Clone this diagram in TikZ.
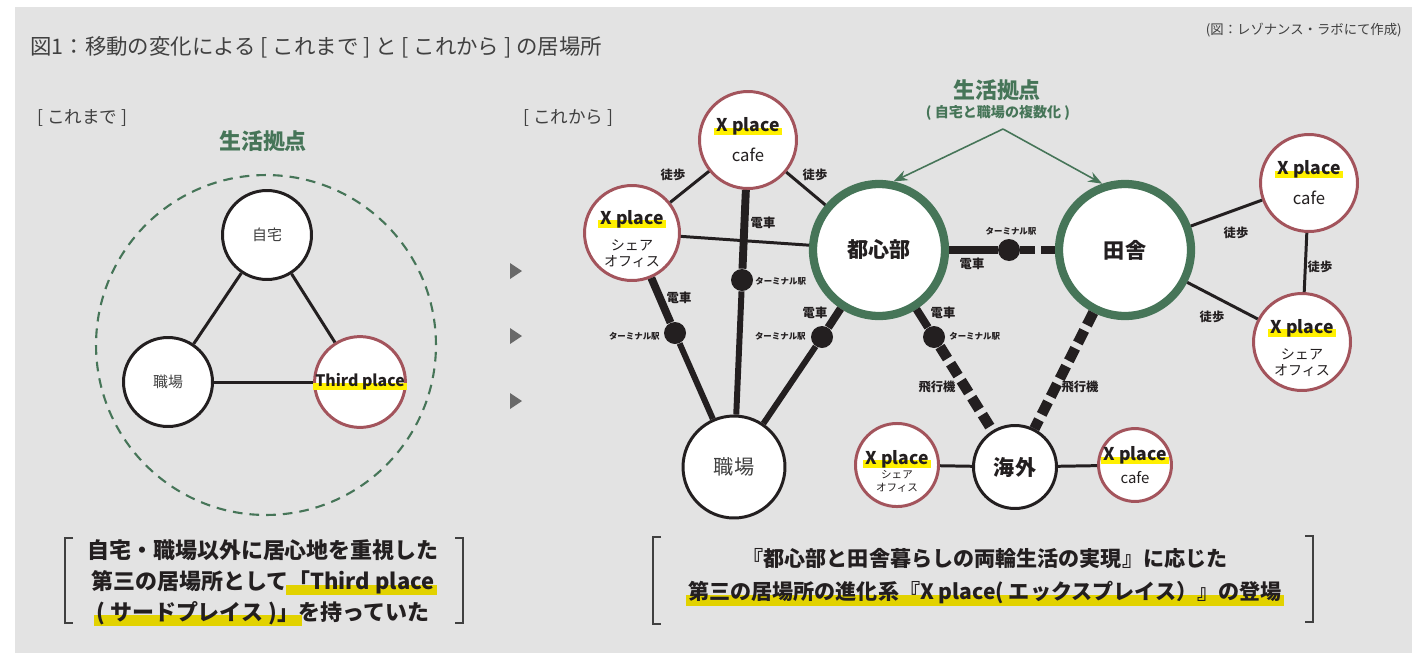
\documentclass[tikz,border=0pt]{standalone}
\usepackage{fontspec}
\setmainfont{Noto Sans CJK JP}
\usetikzlibrary{positioning,arrows.meta}
\definecolor{gg}{RGB}{70,117,88}
\definecolor{rr}{RGB}{163,84,92}
\definecolor{kk}{RGB}{35,31,32}
\definecolor{tt}{RGB}{64,64,64}
\definecolor{yy}{RGB}{255,240,0}
\definecolor{ym}{RGB}{226,210,0}
\definecolor{bg}{RGB}{227,227,227}
\definecolor{pp}{RGB}{105,105,105}
\newcommand{\fsz}[2]{\fontsize{#1pt}{#2pt}\selectfont}
\newcommand{\hlx}[4]{\setbox0=\hbox{#4}\rlap{\kern-0.12em\textcolor{#1}{\rule[-#2]{\dimexpr\wd0+0.24em\relax}{\dimexpr#2+#3\relax}}}\box0}
\newcommand{\xp}{{\fsz{10}{12}\hlx{yy}{0.2em}{0.22em}{\bfseries X place}}}

\begin{document}
\begin{tikzpicture}[x=0.02cm,y=-0.02cm,
  spot/.style={circle,draw=kk,fill=white,line width=1.7pt,inner sep=0pt,align=center,text=tt},
  xpl/.style={circle,draw=rr,fill=white,line width=1.7pt,inner sep=0pt,align=center,text=kk},
  base/.style={circle,draw=gg,fill=white,line width=4.7pt,inner sep=0pt,minimum size=2.64cm,text=kk,font=\bfseries\fsz{12}{14}},
  term/.style={circle,fill=kk,inner sep=0pt,minimum size=0.44cm},
  walk/.style={draw=kk,line width=1.7pt},
  rail/.style={draw=kk,line width=4.5pt},
  railb/.style={draw=kk,line width=3.4pt},
  fly/.style={draw=kk,line width=6pt,dash pattern=on 8pt off 3.4pt},
  tag/.style={text=kk,font=\bfseries\fsz{7}{8},inner sep=0pt},
  stn/.style={text=kk,font=\bfseries\fsz{4.8}{5},inner sep=0pt},
  brk/.style={draw=tt,line width=0.9pt},
  zone/.style={draw=gg,line width=1.2pt,dash pattern=on 5.5pt off 4pt}]
\useasboundingbox (0,0) rectangle (1412,653);
\fill[white] (0,0) rectangle (1412,653);
\fill[bg] (15,7) rectangle (1412,653);

\node[anchor=west,inner sep=0pt,text=tt,font=\fsz{12.2}{14}] (title) at (30,47) {図1：移動の変化による [ これまで ] と [ これから ] の居場所};
\node[anchor=east,inner sep=0pt,text=tt,font=\fsz{7.6}{9}] (credit) at (1402,30) {(図：レゾナンス・ラボにて作成)};
\node[anchor=west,inner sep=0pt,text=tt,font=\fsz{10}{11}] (before) at (37,118) {[ これまで ]};
\node[anchor=west,inner sep=0pt,text=tt,font=\fsz{10}{11}] (after) at (523,118) {[ これから ]};

\node[text=gg,font=\bfseries\fsz{12.5}{14}] (baseL) at (263,141) {生活拠点};
\draw[zone] (266,345) circle[radius=3.4cm];
\node[spot,minimum size=1.78cm,font=\fsz{8.5}{10}] (home) at (267,235) {自宅};
\node[spot,minimum size=1.78cm,font=\fsz{8.5}{10}] (office) at (168,382) {職場};
\node[xpl,minimum size=1.78cm,font=\fsz{9}{10}] (third) at (360,382) {\hlx{yy}{0.2em}{0.22em}{\bfseries Third place}};
\draw[walk] (home) -- (office);
\draw[walk] (home) -- (third);
\draw[walk] (office) -- (third);

\foreach \ty in {271,336,401}
  \fill[pp] (510,\ty-8) -- (522,\ty) -- (510,\ty+8) -- cycle;

\node[text=gg,font=\bfseries\fsz{12.5}{14}] (baseR) at (997,90) {生活拠点};
\node[text=gg,font=\bfseries\fsz{8}{9}] (baseRsub) at (998,113) {( 自宅と職場の複数化 )};
\coordinate (apex) at (1003,129);

\node[xpl,minimum size=1.94cm,font=\fsz{9.5}{17}] (cafeA) at (748,140) {\xp\\cafe};
\node[xpl,minimum size=1.90cm,font=\fsz{8}{9}] (shareA) at (632,233) {\rule{0pt}{14.5pt}\xp\\[6pt]シェア\\オフィス};
\node[base] (city) at (879,250) {都心部};
\node[base] (country) at (1125,250) {田舎};
\node[xpl,minimum size=1.94cm,font=\fsz{9.5}{17}] (cafeB) at (1309,183) {\xp\\cafe};
\node[xpl,minimum size=1.94cm,font=\fsz{8}{9}] (shareB) at (1302,342) {\rule{0pt}{14.5pt}\xp\\[6pt]シェア\\オフィス};
\node[spot,minimum size=2.04cm,font=\fsz{11.5}{13}] (work) at (734,467) {職場};
\node[spot,minimum size=1.66cm,text=kk,font=\bfseries\fsz{12}{14}] (abroad) at (1015,467) {海外};
\node[xpl,minimum size=1.48cm,font=\fsz{6}{7.3}] (shareC) at (897,465) {\rule{0pt}{15pt}\xp\\[1pt]シェア\\オフィス};
\node[xpl,minimum size=1.38cm,font=\fsz{8.5}{13}] (cafeC) at (1135,465) {\xp\\cafe};

\node[term] (tA) at (742,280) {};
\node[term] (tB) at (675,333) {};
\node[term] (tC) at (822,337) {};
\node[term] (tD) at (1009,250) {};
\node[term] (tE) at (934,337) {};

\draw[gg,line width=0.9pt,-{Stealth[length=8pt,width=6pt]}] (apex) -- (city.78);
\draw[gg,line width=0.9pt,-{Stealth[length=8pt,width=6pt]}] (apex) -- (country.109);

\draw[walk] (cafeA) -- (shareA);
\draw[walk] (cafeA) -- (city);
\draw[walk] (shareA) -- (city);
\draw[rail] (cafeA) -- (tA);
\draw[railb] (tA) -- (work);
\draw[rail] (shareA) -- (tB);
\draw[railb] (tB) -- (work);
\draw[rail] (city) -- (tC);
\draw[railb] (tC) -- (work);
\draw[rail] (city) -- (tD);
\draw[rail,dash pattern=on 8.5pt off 3.4pt] (tD) -- (country);
\draw[rail] (city) -- (tE);
\draw[fly] (tE) -- (abroad);
\draw[fly] (country) -- (abroad);
\draw[walk] (abroad) -- (shareC);
\draw[walk] (abroad) -- (cafeC);
\draw[walk] (country) -- (cafeB);
\draw[walk] (country) -- (shareB);
\draw[walk] (cafeB) -- (shareB);

\node[tag] (w1) at (673,175) {徒歩};
\node[tag] (w2) at (815,175) {徒歩};
\node[tag] (w3) at (1236,233) {徒歩};
\node[tag] (w4) at (1212,317) {徒歩};
\node[tag] (w5) at (1320,267) {徒歩};
\node[tag] (r1) at (763,223) {電車};
\node[tag] (r2) at (679,298) {電車};
\node[tag] (r3) at (815,313) {電車};
\node[tag] (r4) at (972,264) {電車};
\node[tag] (r5) at (943,313) {電車};
\node[tag] (f1) at (937,387) {飛行機};
\node[tag] (f2) at (1080,387) {飛行機};
\node[stn,anchor=west] (sA) at (755,281) {ターミナル駅};
\node[stn,anchor=east] (sB) at (660,336) {ターミナル駅};
\node[stn,anchor=east] (sC) at (806,336) {ターミナル駅};
\node[stn] (sD) at (1011,231) {ターミナル駅};
\node[stn,anchor=west] (sE) at (949,336) {ターミナル駅};

\draw[brk] (73,538) -- (65,538) -- (65,623) -- (73,623);
\draw[brk] (455,538) -- (463,538) -- (463,623) -- (455,623);
\node[text=kk,align=center,font=\bfseries\fsz{12.5}{17.6}] (msgL) at (263,583) {自宅・職場以外に居心地を重視した\\第三の居場所として\hlx{ym}{0.28em}{0.22em}{「Third place}\\\hlx{ym}{0.28em}{0.22em}{( サードプレイス )」}を持っていた};

\draw[brk] (661,537) -- (653,537) -- (653,624) -- (661,624);
\draw[brk] (1305,536) -- (1313,536) -- (1313,622) -- (1305,622);
\node[text=kk,align=center,font=\bfseries\fsz{12}{18.7}] (msgR) at (985,577) {『都心部と田舎暮らしの両輪生活の実現』に応じた\\\hlx{ym}{0.3em}{0.2em}{第三の居場所の進化系『X place( エックスプレイス）』の登場}};
\end{tikzpicture}
\end{document}
